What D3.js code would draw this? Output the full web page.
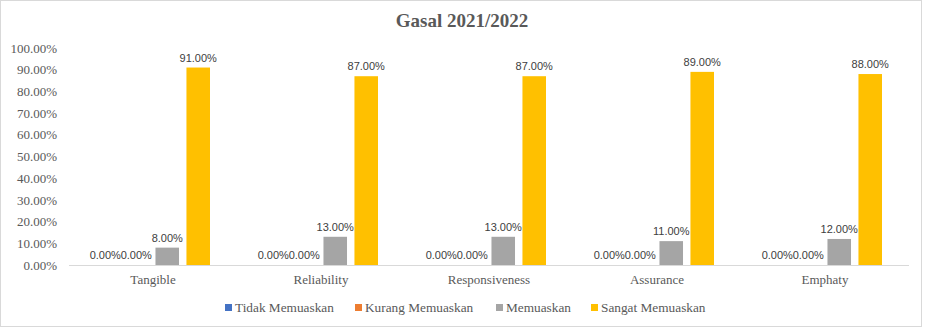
<!DOCTYPE html>
<html>
<head>
<meta charset="utf-8">
<script src="https://cdn.jsdelivr.net/npm/d3@7"></script>
<style>
  body { margin: 0; background: #fff; }
  svg text.serif { font-family: "Liberation Serif", "Times New Roman", serif; fill: #595959; }
  svg text.sans { font-family: "Liberation Sans", Arial, sans-serif; fill: #404040; }
</style>
</head>
<body>
<div id="chart"></div>
<script>
// data
const categories = ["Tangible", "Reliability", "Responsiveness", "Assurance", "Emphaty"];
const seriesNames = ["Tidak Memuaskan", "Kurang Memuaskan", "Memuaskan", "Sangat Memuaskan"];
const seriesColors = ["#4472c4", "#ed7d31", "#a5a5a5", "#ffc000"];
const tidak = [0, 0, 0, 0, 0];
const kurang = [0, 0, 0, 0, 0];
const memuaskan = [8, 13, 13, 11, 12];
const sangat = [91, 87, 87, 89, 88];
const yTicks = [0, 10, 20, 30, 40, 50, 60, 70, 80, 90, 100];

const seriesValues = [tidak, kurang, memuaskan, sangat];

const w = 925, h = 333;
const svg = d3.select("#chart").append("svg")
    .attr("width", w)
    .attr("height", h);

// chart border
svg.append("rect")
    .attr("x", 0.5).attr("y", 0.5)
    .attr("width", 921).attr("height", 326)
    .attr("fill", "#fff")
    .attr("stroke", "#d9d9d9");

// title
svg.append("text")
    .attr("class", "serif")
    .attr("x", 462).attr("y", 27)
    .attr("text-anchor", "middle")
    .style("font-weight", "bold")
    .style("font-size", "19px")
    .text("Gasal 2021/2022");

let xScale = d3.scaleBand()
    .domain(categories)
    .range([69, 909]);

// bars inside one category
let inner = d3.scaleBand()
    .domain(seriesNames)
    .range([24.5, 141])
    .paddingInner(0.24);

let yScale = d3.scaleLinear()
    .domain([0, 100])
    .range([265, 48]);

// y axis (labels only)
let yAxis = d3.axisLeft(yScale)
    .tickValues(yTicks)
    .tickSize(0)
    .tickPadding(0)
    .tickFormat(d => d.toFixed(2) + "%");

let gy = svg.append("g")
    .attr("transform", "translate(57,0)")
    .call(yAxis);
gy.select(".domain").remove();
gy.selectAll("text")
    .attr("class", "serif")
    .style("font-size", "13px");

// bars
const rows = [];
categories.forEach((c, i) => {
    seriesNames.forEach((s, j) => {
        rows.push({ cat: c, series: s, value: seriesValues[j][i], color: seriesColors[j] });
    });
});

svg.append("g").selectAll("rect")
    .data(rows)
    .join("rect")
    .attr("x", d => xScale(d.cat) + inner(d.series))
    .attr("y", d => yScale(d.value))
    .attr("width", inner.bandwidth())
    .attr("height", d => yScale(0) - yScale(d.value))
    .attr("fill", d => d.color);

// value labels
svg.append("g").selectAll("text")
    .data(rows)
    .join("text")
    .attr("class", "sans")
    .attr("x", d => xScale(d.cat) + inner(d.series) + inner.bandwidth() / 2)
    .attr("y", d => yScale(d.value) - 6)
    .attr("text-anchor", "middle")
    .style("font-size", "11px")
    .text(d => d.value.toFixed(2) + "%");

// x axis
let xAxis = d3.axisBottom(xScale).tickSize(0).tickPadding(10);
let gx = svg.append("g")
    .attr("transform", "translate(0,265)")
    .call(xAxis);
gx.select(".domain").attr("stroke", "#d9d9d9").attr("d", "M69,0.5H909");
gx.selectAll("text")
    .attr("class", "serif")
    .style("font-size", "13px");

// legend
const legendX = [225, 355, 496, 591];
const legend = svg.append("g").selectAll("g")
    .data(seriesNames)
    .join("g")
    .attr("transform", (d, i) => "translate(" + legendX[i] + ",308)");
legend.append("rect")
    .attr("x", 0).attr("y", -4)
    .attr("width", 7).attr("height", 7)
    .attr("fill", (d, i) => seriesColors[i]);
legend.append("text")
    .attr("class", "serif")
    .attr("x", 10).attr("y", 4)
    .style("font-size", "13.3px")
    .text(d => d);
</script>
</body>
</html>
